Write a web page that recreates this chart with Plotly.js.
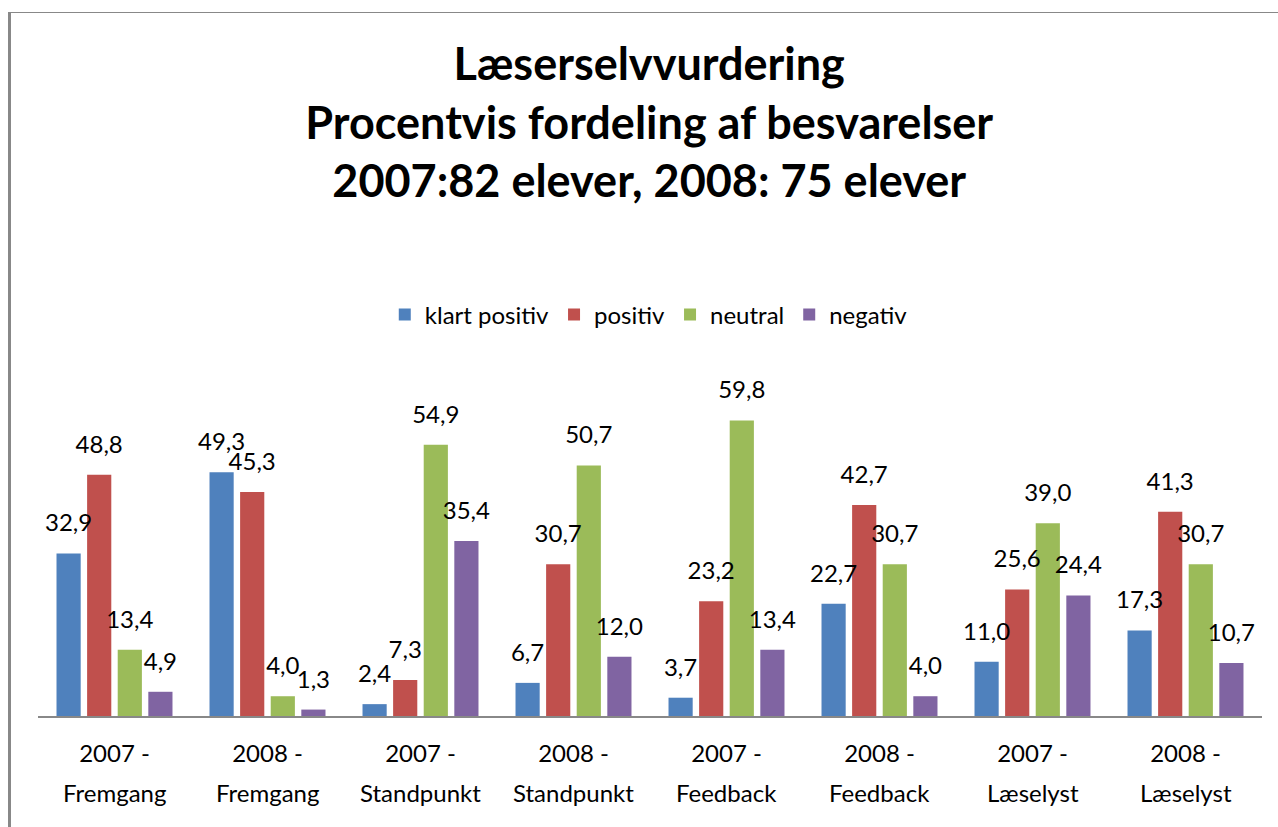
<!DOCTYPE html>
<html>
<head>
<meta charset="utf-8">
<script src="https://cdn.plot.ly/plotly-3.0.1.min.js"></script>
<style>
  html, body { margin: 0; padding: 0; background: #fff; }
  #wrap { position: relative; width: 1278px; height: 827px; overflow: hidden; }
  #chart { width: 1278px; height: 827px; }
  #frame { position: absolute; left: 8px; top: 12px; right: -5px; bottom: -5px;
           border-left: 3px solid #888; border-top: 1px solid #888; pointer-events: none; }
</style>
</head>
<body>
<div id="wrap">
  <div id="chart"></div>
  <div id="frame"></div>
</div>
<script>
const years = ['2007 -', '2008 -', '2007 -', '2008 -', '2007 -', '2008 -', '2007 -', '2008 -'];
const topics = ['Fremgang', 'Fremgang', 'Standpunkt', 'Standpunkt', 'Feedback', 'Feedback', 'Læselyst', 'Læselyst'];
const categories = years.map((y, i) => y + ' ' + topics[i]);

const seriesNames = ['klart positiv', 'positiv', 'neutral', 'negativ'];
const klartPositiv = [32.9, 49.3, 2.4, 6.7, 3.7, 22.7, 11.0, 17.3];
const positiv = [48.8, 45.3, 7.3, 30.7, 23.2, 42.7, 25.6, 41.3];
const neutral = [13.4, 4.0, 54.9, 50.7, 59.8, 30.7, 39.0, 30.7];
const negativ = [4.9, 1.3, 35.4, 12.0, 13.4, 4.0, 24.4, 10.7];
const seriesValues = [klartPositiv, positiv, neutral, negativ];
const colors = ['#4F81BD', '#C0504D', '#9BBB59', '#8064A2'];

const fontFam = 'Lato, "Open Sans", sans-serif';

const bars = seriesValues.map((vals, i) => ({
    type: 'bar',
    name: seriesNames[i],
    x: categories,
    y: vals,
    marker: { color: colors[i] },
    hoverinfo: 'skip'
}));

// value labels, grouped the same way as the bars, floating a bit above them
const labels = seriesValues.map((vals, i) => ({
    type: 'scatter',
    mode: 'markers+text',
    x: categories,
    y: vals,
    text: vals.map(v => v.toFixed(1).replace('.', ',')),
    textposition: 'top center',
    textfont: { family: fontFam, size: 24, color: '#000' },
    marker: { size: 24, color: 'rgba(0,0,0,0)' },
    cliponaxis: false,
    showlegend: false,
    hoverinfo: 'skip'
}));

const topicNotes = categories.map((c, i) => ({
    x: c, xref: 'x',
    y: 0, yref: 'paper',
    yshift: -76,
    yanchor: 'middle',
    text: topics[i],
    showarrow: false,
    font: { family: fontFam, size: 24, color: '#000' }
}));

const layout = {
    width: 1278,
    height: 827,
    paper_bgcolor: 'rgba(0,0,0,0)',
    plot_bgcolor: 'rgba(0,0,0,0)',
    margin: { l: 38, r: 16, t: 370, b: 111 },
    title: {
        text: '<b>Læserselvvurdering<br>Procentvis fordeling af besvarelser<br>2007:82 elever, 2008: 75 elever</b>',
        font: { family: fontFam, size: 45, color: '#000' },
        x: 0.508, xanchor: 'center',
        y: 1 - 80 / 827, yanchor: 'top'
    },
    barmode: 'group',
    bargap: 0.2,
    bargroupgap: 0.21,
    scattermode: 'group',
    scattergap: 0.2,
    showlegend: true,
    legend: {
        orientation: 'h',
        x: 0.499, xanchor: 'center',
        y: 1 + 55 / 346, yanchor: 'middle',
        font: { family: fontFam, size: 24, color: '#000' },
        itemclick: false
    },
    xaxis: {
        type: 'category',
        tickvals: categories,
        ticktext: years,
        showline: true,
        linecolor: '#888',
        linewidth: 1.5,
        ticks: '',
        ticklabelstandoff: 16,
        tickfont: { family: fontFam, size: 24, color: '#000' },
        showgrid: false
    },
    yaxis: {
        range: [0, 70],
        visible: false,
        showgrid: false,
        zeroline: false
    },
    annotations: topicNotes
};

Plotly.newPlot('chart', bars.concat(labels), layout, { displayModeBar: false, staticPlot: true });
</script>
</body>
</html>
